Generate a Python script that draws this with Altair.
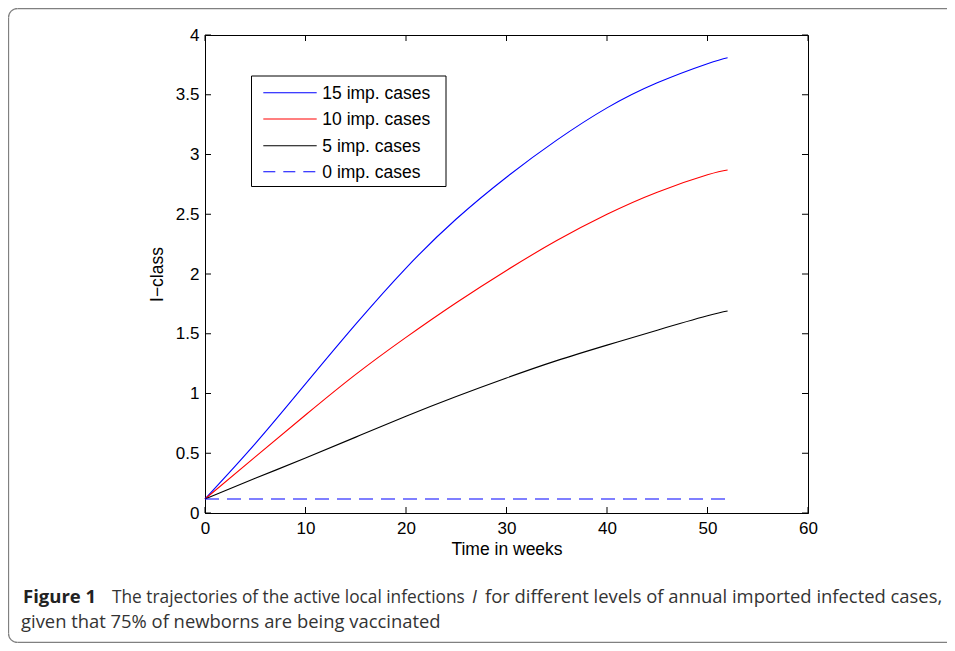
import math
import altair as alt
import pandas as pd

# ---- data ----
weeks = [0, 5, 10, 15, 20, 25, 30, 35, 40, 45, 50, 52]
imp15 = [0.117, 0.58, 1.08, 1.58, 2.05, 2.46, 2.81, 3.12, 3.39, 3.60, 3.76, 3.81]
imp10 = [0.117, 0.47, 0.82, 1.16, 1.47, 1.76, 2.03, 2.28, 2.50, 2.685, 2.83, 2.87]
imp5 = [0.117, 0.29, 0.46, 0.635, 0.81, 0.975, 1.13, 1.275, 1.405, 1.53, 1.65, 1.69]
imp0_weeks = [0, 52]
imp0 = [0.117, 0.117]

series_names = ["15 imp. cases", "10 imp. cases", "5 imp. cases", "0 imp. cases"]
series_colors = ["#0000ff", "#ff0000", "#000000", "#0000ff"]

x_ticks = [0, 10, 20, 30, 40, 50, 60]
y_ticks = [0, 0.5, 1, 1.5, 2, 2.5, 3, 3.5, 4]

caption_bold = "Figure 1"
caption_a = "The trajectories of the active local infections"
caption_i = "I"
caption_c = "for different levels of annual imported infected cases,"
caption_2 = "given that 75% of newborns are being vaccinated"

W, H = 603, 478
AXFONT = "Liberation Sans"
CAPFONT = "Open Sans"

rows = []
for name, vals in zip(series_names[:3], [imp15, imp10, imp5]):
    for t, v in zip(weeks, vals):
        rows.append({"t": t, "I": v, "series": name})
df = pd.DataFrame(rows)
df0 = pd.DataFrame({"t": imp0_weeks, "I": imp0, "series": series_names[3]})

xscale = alt.Scale(domain=[0, 60], nice=False, zero=False)
yscale = alt.Scale(domain=[0, 4], nice=False, zero=False)
xaxis = alt.Axis(values=x_ticks, title="Time in weeks", ticks=False, grid=False,
                 labelFlush=False, labelPadding=7, titlePadding=4)
yaxis = alt.Axis(values=y_ticks, title="I\u2212class", ticks=False, grid=False, labelFlush=False,
                 format="~g", labelPadding=6, titlePadding=9)


def X(field):
    return alt.X(field, scale=xscale, axis=xaxis)


def Y(field):
    return alt.Y(field, scale=yscale, axis=yaxis)


solid = alt.Chart(df).mark_line(strokeWidth=1.1, interpolate="natural").encode(
    x=X("t:Q"),
    y=Y("I:Q"),
    color=alt.Color("series:N", scale=alt.Scale(domain=series_names[:3], range=series_colors[:3]),
                    legend=None),
    detail="series:N",
)

dashed = alt.Chart(df0).mark_line(strokeWidth=1.1, strokeDash=[14, 8], color=series_colors[3]).encode(
    x=X("t:Q"),
    y=Y("I:Q"),
)

# inward ticks on all four sides
xt = pd.DataFrame({"t": x_ticks})
yt = pd.DataFrame({"I": y_ticks})
tick_style = dict(color="black", strokeWidth=1)
tb = alt.Chart(xt).mark_rule(**tick_style).encode(x=X("t:Q"), y=alt.value(H), y2=alt.value(H - 6))
tt = alt.Chart(xt).mark_rule(**tick_style).encode(x=X("t:Q"), y=alt.value(0), y2=alt.value(6))
tl = alt.Chart(yt).mark_rule(**tick_style).encode(y=Y("I:Q"), x=alt.value(0), x2=alt.value(6))
tr = alt.Chart(yt).mark_rule(**tick_style).encode(y=Y("I:Q"), x=alt.value(W), x2=alt.value(W - 6))

one = pd.DataFrame({"k": [0]})

# legend (manual, MATLAB style)
leg_box = alt.Chart(one).mark_rect(fill="white", stroke="black", strokeWidth=1).encode(
    x=alt.value(46.5), x2=alt.value(241), y=alt.value(41), y2=alt.value(151.5))
legend_layers = [leg_box]
row_y = [57.7, 84.0, 110.7, 136.7]
for name, col, ry in zip(series_names, series_colors, row_y):
    dash = [12, 8] if name == series_names[3] else [1, 0]
    legend_layers.append(
        alt.Chart(one).mark_rule(color=col, strokeWidth=1.1, strokeDash=dash).encode(
            x=alt.value(58.3), x2=alt.value(111.7), y=alt.value(ry)))
    legend_layers.append(
        alt.Chart(one).mark_text(text=name, align="left", baseline="middle", font=AXFONT,
                                 fontSize=17.5, color="black").encode(
            x=alt.value(117.3), y=alt.value(ry + 1)))

# figure frame (open on the right, rounded on the left) drawn around the panel
FC = "#808080"
FL, FT, FB, R = -196.5, -26.5, 607.5, 9
FR = 742
frame = [
    alt.Chart(one).mark_rule(color=FC, strokeWidth=1.3).encode(
        x=alt.value(FL + R), x2=alt.value(FR), y=alt.value(FT)),
    alt.Chart(one).mark_rule(color=FC, strokeWidth=1.3).encode(
        x=alt.value(FL + R), x2=alt.value(FR), y=alt.value(FB)),
    alt.Chart(one).mark_rule(color=FC, strokeWidth=1.3).encode(
        x=alt.value(FL), y=alt.value(FT + R), y2=alt.value(FB - R)),
    alt.Chart(one).mark_arc(color=FC, radius=R + 0.65, radius2=R - 0.65,
                            theta=1.5 * math.pi, theta2=2 * math.pi).encode(
        x=alt.value(FL + R), y=alt.value(FT + R)),
    alt.Chart(one).mark_arc(color=FC, radius=R + 0.65, radius2=R - 0.65,
                            theta=math.pi, theta2=1.5 * math.pi).encode(
        x=alt.value(FL + R), y=alt.value(FB - R)),
]

cap_y1 = 568
cap_y2 = 593
cap = [
    alt.Chart(one).mark_text(text=caption_bold, align="left", baseline="alphabetic", font=CAPFONT,
                             fontSize=18.5, fontWeight="bold", color="#222").encode(
        x=alt.value(-182), y=alt.value(cap_y1)),
    alt.Chart(one).mark_text(text=caption_a, align="left", baseline="alphabetic", font=CAPFONT,
                             fontSize=17.3, color="#333").encode(
        x=alt.value(-93), y=alt.value(cap_y1)),
    alt.Chart(one).mark_text(text=caption_i, align="left", baseline="alphabetic", font=CAPFONT,
                             fontSize=18, fontStyle="italic", color="#333").encode(
        x=alt.value(267), y=alt.value(cap_y1)),
    alt.Chart(one).mark_text(text=caption_c, align="left", baseline="alphabetic", font=CAPFONT,
                             fontSize=18.4, color="#333").encode(
        x=alt.value(280), y=alt.value(cap_y1)),
    alt.Chart(one).mark_text(text=caption_2, align="left", baseline="alphabetic", font=CAPFONT,
                             fontSize=18.4, color="#333").encode(
        x=alt.value(-184), y=alt.value(cap_y2)),
]

chart = alt.layer(
    *frame, solid, dashed, tb, tt, tl, tr, *legend_layers, *cap
).properties(
    width=W, height=H,
    autosize=alt.AutoSizeParams(type="none"),
    padding={"left": 197, "top": 27, "right": 139, "bottom": 130},
).configure_view(
    stroke="black", strokeWidth=1
).configure_axis(
    domainColor="black", domainWidth=1,
    labelFont=AXFONT, labelFontSize=17, labelColor="black",
    titleFont=AXFONT, titleFontSize=17.5, titleFontWeight="normal", titleColor="black",
)

chart.save("out.html", embed_options={"renderer": "svg", "actions": False})
